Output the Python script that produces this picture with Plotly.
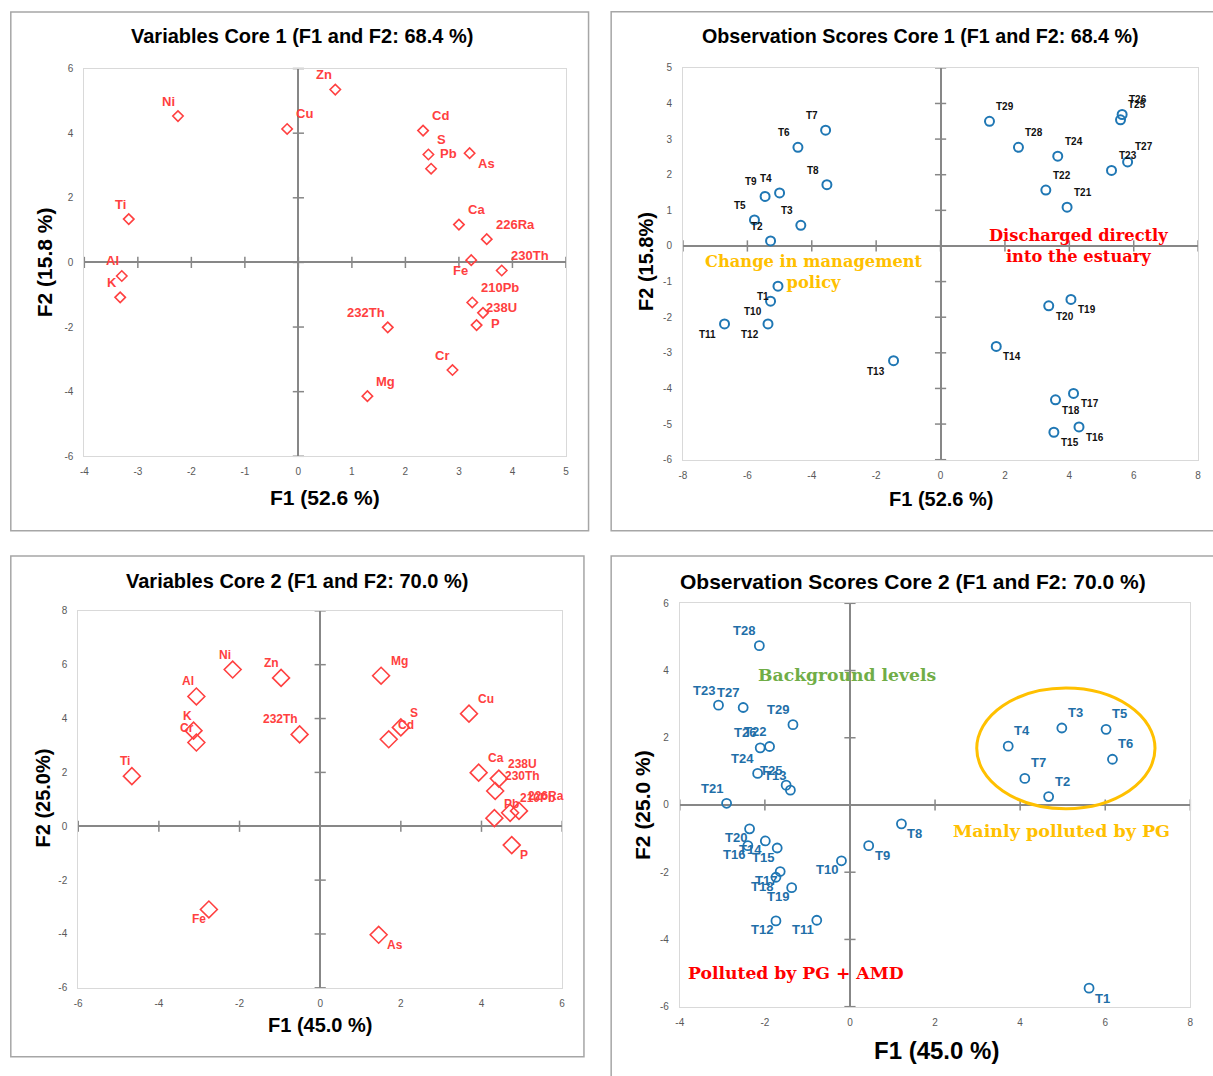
import plotly.graph_objects as go

W, H = 1213, 1076

# ---------------- DATA ----------------
# Panel 1: Variables Core 1
v1_labels = ["Zn", "Ni", "Cu", "Cd", "S", "Pb", "As", "Ti", "Ca", "226Ra", "Fe", "230Th",
             "Al", "K", "210Pb", "238U", "P", "232Th", "Cr", "Mg"]
v1_f1 = [0.69, -2.25, -0.21, 2.33, 2.43, 2.48, 3.20, -3.17, 3.00, 3.52, 3.23, 3.80,
         -3.30, -3.33, 3.25, 3.45, 3.33, 1.67, 2.88, 1.29]
v1_f2 = [5.35, 4.53, 4.13, 4.08, 3.34, 2.90, 3.38, 1.34, 1.17, 0.72, 0.07, -0.25,
         -0.42, -1.08, -1.24, -1.56, -1.94, -2.01, -3.33, -4.14]

# Panel 2: Observation scores Core 1
o1_labels = ["T%d" % i for i in range(1, 30)]
o1_f1 = [-5.05, -5.28, -4.34, -5.00, -5.78, -4.43, -3.57, -3.53, -5.45, -5.28,
         -6.71, -5.36, -1.46, 1.73, 3.52, 4.30, 4.13, 3.57, 4.05, 3.36,
         3.93, 3.27, 5.31, 3.64, 5.59, 5.64, 5.81, 2.42, 1.52]
o1_f2 = [-1.13, 0.14, 0.58, 1.49, 0.73, 2.77, 3.25, 1.72, 1.39, -1.55,
         -2.19, -2.19, -3.22, -2.82, -5.23, -5.08, -4.14, -4.32, -1.50, -1.68,
         1.09, 1.57, 2.12, 2.52, 3.54, 3.69, 2.36, 2.77, 3.50]

# Panel 3: Variables Core 2
v2_labels = ["Ni", "Zn", "Al", "K", "Cr", "232Th", "Ti", "Fe", "As", "Mg", "S", "Cd",
             "Cu", "Ca", "238U", "230Th", "Pb", "210Pb", "226Ra", "P"]
v2_f1 = [-2.17, -0.97, -3.07, -3.14, -3.07, -0.51, -4.67, -2.76, 1.45, 1.51, 2.00, 1.70,
         3.69, 3.93, 4.43, 4.34, 4.32, 4.71, 4.93, 4.75]
v2_f2 = [5.82, 5.51, 4.82, 3.55, 3.11, 3.41, 1.86, -3.09, -4.03, 5.59, 3.67, 3.23,
         4.18, 1.99, 1.77, 1.31, 0.30, 0.50, 0.57, -0.70]

# Panel 4: Observation scores Core 2
o2_labels = ["T%d" % i for i in range(1, 30)]
o2_f1 = [5.62, 4.67, 4.98, 3.72, 6.02, 6.17, 4.11, 1.21, 0.44, -0.20,
         -0.78, -1.74, -1.40, -1.99, -1.71, -2.40, -1.64, -1.74, -1.37, -2.36,
         -2.90, -1.89, -3.09, -2.17, -1.50, -2.11, -2.51, -2.13, -1.34]
o2_f2 = [-5.45, 0.25, 2.29, 1.75, 2.25, 1.36, 0.79, -0.56, -1.21, -1.66,
         -3.43, -3.45, 0.44, -1.07, -1.28, -1.21, -1.98, -2.15, -2.46, -0.71,
         0.05, 1.74, 2.97, 0.94, 0.59, 1.70, 2.90, 4.74, 2.39]

# Axis ticks
p1_xticks = [-4, -3, -2, -1, 0, 1, 2, 3, 4, 5]
p1_yticks = [-6, -4, -2, 0, 2, 4, 6]
p2_xticks = [-8, -6, -4, -2, 0, 2, 4, 6, 8]
p2_yticks = [-6, -5, -4, -3, -2, -1, 0, 1, 2, 3, 4, 5]
p3_xticks = [-6, -4, -2, 0, 2, 4, 6]
p3_yticks = [-6, -4, -2, 0, 2, 4, 6, 8]
p4_xticks = [-4, -2, 0, 2, 4, 6, 8]
p4_yticks = [-6, -4, -2, 0, 2, 4, 6]

# ---------------- STYLE ----------------
v1_pos = ["ul", "ul", "ur", "ur", "ur", "ur", "lr", "ul", "ur", "ur", "ll", "ur",
          "ul", "ul", "ur", "r1", "r2", "ul", "ul", "ur"]
o1_pos = ["ll", "ul", "ul", "ul", "ul", "ul", "ul", "ul", "ul", "ll",
          "ll", "ll", "ll", "lr", "lr", "lr", "lr", "lr", "lr", "lr",
          "ur", "ur", "ur", "ur", "ur", "ur", "ur", "ur", "ur"]
v2_pos = ["ul", "ul", "ul", "ul", "ul", "ul", "ul", "ll", "lr", "ur", "ur", "ur",
          "ur", "ur", "ur", "ur", "ur", "ur", "ur", "lr"]
o2_pos = ["lr", "ur", "ur", "ur", "ur", "ur", "ur", "lr", "lr", "ll",
          "ll", "ll", "ul", "ll", "ll", "ll", "ll", "ll", "ll", "ll",
          "ul", "ul", "ul", "ul", "ul", "ul", "ul", "ul", "ul"]

pos_v1 = {"ul": ("right", -1, 15), "ur": ("left", 7, 15), "ll": ("right", -1, -10),
          "lr": ("left", 6, -10), "r1": ("left", 1, 5), "r2": ("left", 12, 2)}
pos_o1 = {"ul": ("right", -6, 14.5), "ur": ("left", 5, 15), "ll": ("right", -7, -10.5),
          "lr": ("left", 5, -10.5)}
pos_v2 = {"ul": ("right", 0, 15), "ur": ("left", 7.5, 14.5), "ll": ("right", -1, -9.5),
          "lr": ("left", 6.5, -10)}
pos_o2 = {"ul": ("right", -2, 15), "ur": ("left", 4, 15.5), "ll": ("right", -1, -9),
          "lr": ("left", 4, -10)}

RED = "#FF4040"
BLUE = "#1F77B4"
LBLUE = "#1F6FA8"
GOLD = "#FFC000"
GREEN = "#70AD47"
AXIS_GREY = "#878787"
FRAME = "#D9D9D9"
TICKC = "#595959"
FONT = "Liberation Sans, Arial, sans-serif"
SERIF = "DejaVu Serif, serif"

# compensation of the capture's small offset/scale (measured)
AX, BX, AY, BY = 3.9, 0.9938, 5.8, 0.988


def fx(px):
    return ((px - AX) / BX) / W


def fy(py):
    return 1 - ((py - AY) / BY) / H


panels = [
    dict(xd=(84.2, 565.6), yd=(68.3, 455.7), xr=(-4, 5), yr=(-6, 6), xt=p1_xticks, yt=p1_yticks),
    dict(xd=(682.6, 1197.5), yd=(67.6, 459.1), xr=(-8, 8), yr=(-6, 5), xt=p2_xticks, yt=p2_yticks),
    dict(xd=(78.1, 561.8), yd=(610.1, 986.8), xr=(-6, 6), yr=(-6, 8), xt=p3_xticks, yt=p3_yticks),
    dict(xd=(679.4, 1189.7), yd=(602.6, 1005.6), xr=(-4, 8), yr=(-6, 6), xt=p4_xticks, yt=p4_yticks),
]

fig = go.Figure()
layout = dict(width=W, height=H, margin=dict(l=0, r=0, t=0, b=0), autosize=False,
              paper_bgcolor="white", plot_bgcolor="white", showlegend=False)

annotations = []
shapes = []

for i, p in enumerate(panels, start=1):
    xa = "xaxis" if i == 1 else "xaxis%d" % i
    ya = "yaxis" if i == 1 else "yaxis%d" % i
    xr = "x" if i == 1 else "x%d" % i
    yr = "y" if i == 1 else "y%d" % i
    layout[xa] = dict(domain=[fx(p["xd"][0]), fx(p["xd"][1])], range=list(p["xr"]),
                      anchor=yr, tickvals=p["xt"], ticktext=[str(t) for t in p["xt"]],
                      ticks="", showgrid=False,
                      zeroline=True, zerolinecolor=AXIS_GREY, zerolinewidth=2,
                      showline=True, mirror=True, linecolor=FRAME, linewidth=1,
                      tickfont=dict(family=FONT, size=10, color=TICKC),
                      ticklabelstandoff=6, fixedrange=True)
    layout[ya] = dict(domain=[fy(p["yd"][1]), fy(p["yd"][0])], range=list(p["yr"]),
                      anchor=xr, tickvals=p["yt"], ticktext=[str(t) for t in p["yt"]],
                      ticks="", showgrid=False,
                      zeroline=True, zerolinecolor=AXIS_GREY, zerolinewidth=2,
                      showline=True, mirror=True, linecolor=FRAME, linewidth=1,
                      tickfont=dict(family=FONT, size=10, color=TICKC),
                      ticklabelstandoff=8, fixedrange=True)
    xt_in = [t for t in p["xt"] if p["xr"][0] <= t <= p["xr"][1]]
    yt_in = [t for t in p["yt"] if p["yr"][0] <= t <= p["yr"][1]]
    fig.add_trace(go.Scatter(x=xt_in, y=[0] * len(xt_in), mode="markers", xaxis=xr, yaxis=yr,
                             marker=dict(symbol="line-ns", size=8, color=AXIS_GREY,
                                         line=dict(color=AXIS_GREY, width=1.5)),
                             hoverinfo="skip", cliponaxis=False))
    fig.add_trace(go.Scatter(x=[0] * len(yt_in), y=yt_in, mode="markers", xaxis=xr, yaxis=yr,
                             marker=dict(symbol="line-ew", size=8, color=AXIS_GREY,
                                         line=dict(color=AXIS_GREY, width=1.5)),
                             hoverinfo="skip", cliponaxis=False))


def add_points(xs, ys, labels, posc, posmap, ax, symbol, size, mcolor, lcolor, lsize, lw):
    xr = "x" if ax == 1 else "x%d" % ax
    yr = "y" if ax == 1 else "y%d" % ax
    fig.add_trace(go.Scatter(x=xs, y=ys, mode="markers", xaxis=xr, yaxis=yr,
                             marker=dict(symbol=symbol, size=size, color=mcolor,
                                         line=dict(color=mcolor, width=lw)),
                             text=labels, hoverinfo="text", cliponaxis=False))
    for x, y, t, c in zip(xs, ys, labels, posc):
        anc, dx, dy = posmap[c]
        annotations.append(dict(x=x, y=y, xref=xr, yref=yr, text="<b>%s</b>" % t,
                                showarrow=False, xanchor=anc, yanchor="middle",
                                xshift=dx, yshift=dy,
                                font=dict(family=FONT, size=lsize, color=lcolor)))


add_points(v1_f1, v1_f2, v1_labels, v1_pos, pos_v1, 1, "diamond-open", 8, RED, RED, 13, 1.6)
add_points(o1_f1, o1_f2, o1_labels, o1_pos, pos_o1, 2, "circle-open", 9, BLUE, "#111111", 10, 2)
add_points(v2_f1, v2_f2, v2_labels, v2_pos, pos_v2, 3, "diamond-open", 13, RED, RED, 12, 1.6)
add_points(o2_f1, o2_f2, o2_labels, o2_pos, pos_o2, 4, "circle-open", 9, BLUE, LBLUE, 13, 1.8)

titles = [
    ("Variables Core 1 (F1 and F2: 68.4 %)", 302, 36.2, 20),
    ("Observation Scores Core 1 (F1 and F2: 68.4 %)", 920.4, 35.5, 19.7),
    ("Variables Core 2 (F1 and F2: 70.0 %)", 296.4, 580, 20),
    ("Observation Scores Core 2 (F1 and F2: 70.0 %)", 912.7, 581, 21),
]
for t, x, y, s in titles:
    annotations.append(dict(text="<b>%s</b>" % t, x=fx(x), y=fy(y), xref="paper", yref="paper",
                            showarrow=False, xanchor="center", yanchor="middle",
                            font=dict(family=FONT, size=s, color="#000000")))

xtitles = [("F1 (52.6 %)", 324.3, 497, 21), ("F1 (52.6 %)", 940.8, 498.6, 20),
           ("F1 (45.0 %)", 320.1, 1023.8, 20), ("F1 (45.0 %)", 936.2, 1049.4, 24)]
for t, x, y, s in xtitles:
    annotations.append(dict(text="<b>%s</b>" % t, x=fx(x), y=fy(y), xref="paper", yref="paper",
                            showarrow=False, xanchor="center", yanchor="middle",
                            font=dict(family=FONT, size=s, color="#000000")))
ytitles = [("F2 (15.8 %)", 45.2, 261.5, 21), ("F2 (15.8%)", 645.7, 261.5, 20),
           ("F2 (25.0%)", 42.9, 797.6, 20), ("F2 (25.0 %)", 642.6, 804.1, 21)]
for t, x, y, s in ytitles:
    annotations.append(dict(text="<b>%s</b>" % t, x=fx(x), y=fy(y), xref="paper", yref="paper",
                            showarrow=False, xanchor="center", yanchor="middle", textangle=-90,
                            font=dict(family=FONT, size=s, color="#000000")))

groups = [
    ("Change in management<br>policy", "x2", "y2", -3.92, -0.73, GOLD, 16.3),
    ("Discharged directly<br>into the estuary", "x2", "y2", 4.30, 0.01, "#FF0000", 16.3),
    ("Background levels", "x4", "y4", -0.08, 3.86, GREEN, 17.2),
    ("Mainly polluted by PG", "x4", "y4", 4.98, -0.76, GOLD, 17.5),
    ("Polluted by PG + AMD", "x4", "y4", -1.27, -4.99, "#FF0000", 17.2),
]
for t, xr, yr, x, y, c, s in groups:
    annotations.append(dict(text="<b>%s</b>" % t, x=x, y=y, xref=xr, yref=yr,
                            showarrow=False, xanchor="center", yanchor="middle", align="center",
                            font=dict(family=SERIF, size=s, color=c)))

ell = dict(x0=2.98, x1=7.17, y0=-0.11, y1=3.48)
shapes.append(dict(type="circle", xref="x4", yref="y4", line=dict(color=GOLD, width=3), **ell))

borders = [(10.7, 11.8, 588.2, 530), (610.8, 11.5, 1240, 530),
           (10.7, 555.4, 583.6, 1055.6), (610.8, 555.4, 1240, 1100)]
for x0, y0, x1, y1 in borders:
    shapes.append(dict(type="rect", xref="paper", yref="paper", x0=fx(x0), y0=fy(y1),
                       x1=fx(x1), y1=fy(y0), line=dict(color="#A6A6A6", width=1.5),
                       layer="below"))

layout["annotations"] = annotations
layout["shapes"] = shapes
fig.update_layout(**layout)
fig.write_html("out.html")
